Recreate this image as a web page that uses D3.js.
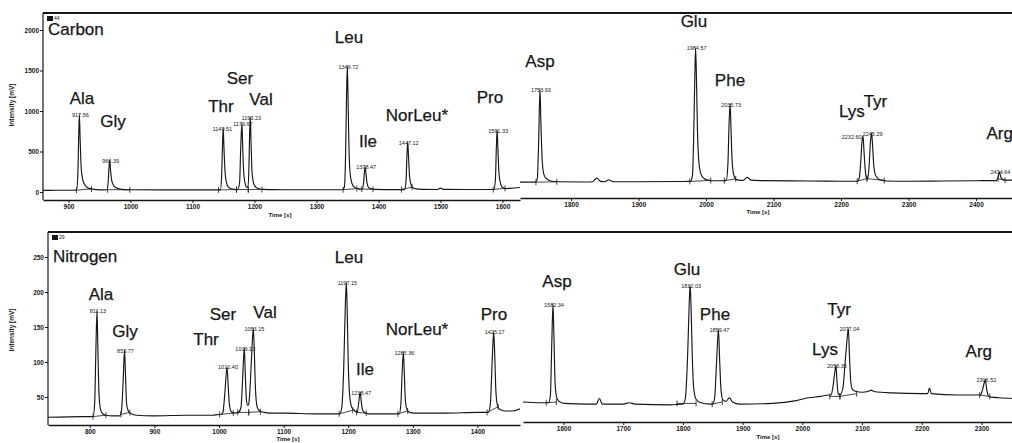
<!DOCTYPE html>
<html><head><meta charset="utf-8">
<script src="https://cdn.jsdelivr.net/npm/d3@7"></script>
<style>
html,body{margin:0;padding:0;background:#fff;}
svg{display:block;font-family:"Liberation Sans",Arial,sans-serif;}
</style></head><body>
<svg id="chart" width="1012" height="443"></svg>
<script>
// ---------- Carbon channel, run A (time s, intensity mV) ----------
const carbonTraceA = [
 [859,20],[880,21],[905,22],[913,23],[915,200],[916.5,700],[917.56,960],[918.8,650],[920.5,300],[923,150],[927,80],[933,45],[945,30],
 [957,27],[962,28],[964,120],[965.3,300],[966.39,395],[967.6,290],[969.5,150],[972,90],[976,55],[982,38],[990,30],[999,28],
 [1050,26],[1100,26],[1140,26],
 [1145,26],[1147,200],[1148.5,600],[1149.51,790],[1150.7,560],[1152.5,250],[1155,110],[1158,60],[1162,40],[1168,32],
 [1173,30],[1176,120],[1177.8,550],[1179.67,850],[1180.8,600],[1182.5,250],[1185,100],[1187.5,60],
 [1189.5,60],[1191,300],[1192.2,750],[1193.23,925],[1194.3,650],[1196,250],[1198.5,110],[1202,60],[1207,40],[1215,32],[1230,29],
 [1260,28],[1300,28],[1335,28],
 [1341,28],[1345,60],[1347,500],[1348.5,1200],[1349.72,1555],[1350.8,1200],[1352.2,600],[1354,250],[1357,110],[1361,60],[1366,42],[1371,36],
 [1374,36],[1376,120],[1377.3,250],[1378.47,310],[1379.7,230],[1381.5,110],[1384,55],[1388,40],[1395,33],
 [1420,30],[1440,30],
 [1442,30],[1444.5,150],[1446,480],[1447.12,617],[1448.3,460],[1450,200],[1452.5,90],[1456,50],[1461,38],[1470,32],
 [1495,31],[1500,48],[1505,32],[1540,31],[1580,31],
 [1586,31],[1588.5,150],[1590.2,580],[1591.33,765],[1592.5,550],[1594.3,230],[1597,100],[1600,55],[1605,42],[1612,45],[1628,55]
];
const carbonNamesA = ["Ala","Gly","Thr","Ser","Val","Leu","Ile","NorLeu*","Pro"];
const carbonTimesA = [917.56, 966.39, 1149.51, 1179.67, 1193.23, 1349.72, 1378.47, 1447.12, 1591.33];
const carbonNameAtA = [[921.8,1090],[971.8,802],[1145.9,990],[1176.6,1330],[1210.5,1075],[1352.4,1840],[1383,556],[1462,877],[1579.8,1099]];
const carbonCutsA = [[[913,23],[937,38]],[[963,28],[999,28]],[[1142,26],[1171,30]],[[1171,30],[1190,30]],[[1190,30],[1212,30]],
 [[1343,28],[1365,42]],[[1373,36],[1391,33]],[[1437,30],[1454,60]],[[1585,31],[1604,45]]];
const carbonTicksA = [900,1000,1100,1200,1300,1400,1500,1600];
const carbonIntensityTicks = [0,500,1000,1500,2000];

// ---------- Carbon channel, run B ----------
const carbonTraceB = [
 [1724,10],[1740,10],
 [1747,10],[1750,50],[1752,500],[1753.93,1160],[1755.5,700],[1757.5,250],[1760,100],[1764,50],[1770,25],[1780,15],
 [1820,12],[1832,15],[1838,60],[1844,20],[1850,15],[1856,40],[1862,15],[1900,15],[1960,18],[1975,20],
 [1977,20],[1980,100],[1982,700],[1983.6,1400],[1984.57,1667],[1985.8,1300],[1987.3,650],[1989.5,250],[1992.5,110],[1997,55],[2003,35],[2010,28],
 [2025,28],[2030,32],[2032.5,250],[2034,700],[2035.73,975],[2036.9,700],[2038.6,280],[2041,100],[2044,50],[2048,35],
 [2055,32],[2061,70],[2067,35],[2080,30],[2150,25],[2200,22],[2222,22],
 [2224,22],[2227,60],[2229.5,300],[2231.2,520],[2232.6,580],[2234,400],[2236,150],[2238,60],
 [2239.5,50],[2241.5,200],[2243.5,500],[2245.29,617],[2246.8,450],[2248.5,220],[2251,100],[2255,55],[2260,35],[2268,25],
 [2300,22],[2350,25],[2400,28],[2428,30],
 [2430,30],[2432.5,70],[2434.64,136],[2436.5,80],[2439,45],[2443,35],[2454,35]
];
const carbonNamesB = ["Asp","Glu","Phe","Lys","Tyr","Arg"];
const carbonTimesB = [1753.93, 1984.57, 2035.73, 2232.60, 2245.29, 2434.64];
const carbonNameAtB = [[1754,1432],[1982,1926],[2035.5,1198],[2216,815],[2251,938],[2435,543]];
const carbonCutsB = [[[1748,10],[1779,15]],[[1976,20],[2007,32]],[[2027,30],[2044,50]],[[2224,22],[2238.5,55]],[[2238.5,55],[2264,30]],[[2432.6,50],[2443,35]]];
const carbonTicksB = [1800,1900,2000,2100,2200,2300,2400];

// ---------- Nitrogen channel, run A ----------
const nitrogenTraceA = [
 [735,21],[790,22],[803,22],
 [805,22],[807.5,40],[809.5,120],[811.13,173],[812.5,120],[814,60],[816,35],[819,27],[825,24],[835,23],
 [846,23],[849,30],[851.5,70],[853.77,117],[855.3,80],[857,40],[859.5,30],[864,26],[872,24],
 [900,23],[950,24],[990,24],[1000,25],
 [1003,25],[1006,28],[1009,55],[1012.4,93],[1014,70],[1016,40],[1019,29],[1024,27],
 [1030,28],[1034,35],[1036.5,75],[1039.13,120],[1040.8,80],[1042.5,45],[1044.5,38],
 [1046,40],[1048.5,70],[1051,120],[1053.15,148],[1054.8,110],[1056.5,60],[1059,36],[1063,30],[1070,28],[1080,27],
 [1100,27],[1150,26],[1185,26],
 [1187,26],[1190,35],[1193,90],[1195.5,180],[1197.15,214],[1198.5,170],[1200,100],[1202,55],[1204.5,38],[1208,32],[1212,29],
 [1214,28],[1216,40],[1218.47,57],[1220,45],[1222,32],[1225,28],[1232,26],
 [1260,26],[1278,26],
 [1279,26],[1281.5,40],[1283.5,85],[1285.36,114],[1286.8,85],[1288.5,45],[1291,32],[1295,28],[1302,27],
 [1350,27],[1400,28],[1415,28],
 [1417,28],[1420,40],[1423,105],[1425.17,143],[1426.8,110],[1428.5,60],[1431,38],[1435,32],[1442,30],[1455,30],[1466,33]
];
const nitrogenNamesA = ["Ala","Gly","Thr","Ser","Val","Leu","Ile","NorLeu*","Pro"];
const nitrogenTimesA = [811.13, 853.77, 1012.40, 1039.13, 1053.15, 1197.15, 1218.47, 1285.36, 1425.17];
const nitrogenNameAtA = [[817.3,189],[854.5,136],[979.9,124],[1006.2,160],[1071.2,163],[1201.2,241],[1226,81],[1306.5,139],[1425.7,160]];
const nitrogenCutsA = [[[805,22],[825,24]],[[848,25],[862,28]],[[1001,25],[1022,27]],[[1029,28],[1046,28]],[[1046,28],[1064,29]],
 [[1186,26],[1207,31]],[[1213,28],[1228,27]],[[1277,26],[1292,30]],[[1415,28],[1432,36]]];
const nitrogenTicksA = [800,900,1000,1100,1200,1300,1400];
const nitrogenIntensityTicks = [50,100,150,200,250];

// ---------- Nitrogen channel, run B ----------
const nitrogenTraceB = [
 [1532,40],[1560,39],[1572,39],
 [1575,39],[1578,50],[1580.5,130],[1582.34,180],[1584,130],[1586,65],[1589,45],[1594,40],[1602,38],
 [1640,37],[1655,37],[1660,45],[1665,37],[1700,37],[1710,39],[1720,37],[1780,36],[1795,37],
 [1800,37],[1804,45],[1808,110],[1810.5,180],[1812.03,207],[1813.5,180],[1815.5,110],[1818,60],[1822,44],[1830,39],[1845,37],
 [1850,37],[1853,45],[1856.5,100],[1859.47,144],[1861.5,100],[1864,55],[1867,43],[1872,41],[1878,46],[1883,40],[1895,37],
 [1950,38],[1990,42],[2010,46],[2030,48],[2045,50],
 [2048,50],[2051,60],[2054,80],[2056.35,92],[2058,70],[2060,52],
 [2063,50],[2068,60],[2072,100],[2075,130],[2077.04,145],[2079,105],[2081,70],[2084,58],[2090,55],[2100,54],[2110,55],[2115,57],[2120,55],
 [2150,53],[2200,52],[2210,52],[2213,60],[2216,52],[2260,50],[2290,50],
 [2298,50],[2301,55],[2304,65],[2306.52,72],[2308.5,60],[2311,50],[2316,47],[2330,46],[2352,45]
];
const nitrogenNamesB = ["Asp","Glu","Phe","Lys","Tyr","Arg"];
const nitrogenTimesB = [1582.34, 1812.03, 1859.47, 2056.35, 2077.04, 2306.52];
const nitrogenNameAtB = [[1589,204],[1806.8,221],[1853.7,157],[2038,107],[2061.5,164],[2295.6,104]];
const nitrogenCutsB = [[[1571,39],[1588,40]],[[1790,38],[1822,38]],[[1849,37],[1866,40]],[[2046,48],[2063,48]],[[2063,48],[2091,52]],[[2297,50],[2314,48]]];
const nitrogenTicksB = [1600,1700,1800,1900,2000,2100,2200,2300];

// ---------- layout ----------
const W = 1012, H = 443;
const svg = d3.select("#chart");
const ink = "#161616";

const panels = [
 {id:"ca", trace:carbonTraceA, names:carbonNamesA, times:carbonTimesA, nameAt:carbonNameAtA, cuts:carbonCutsA, xticks:carbonTicksA,
  x:d3.scaleLinear().domain([858.9,1628.2]).range([43,520]), y:d3.scaleLinear().domain([0,2000]).range([192,30]),
  axisY:200, timeAt:[280,217]},
 {id:"cb", trace:carbonTraceB, names:carbonNamesB, times:carbonTimesB, nameAt:carbonNameAtB, cuts:carbonCutsB, xticks:carbonTicksB,
  x:d3.scaleLinear().domain([1724.4,2453.3]).range([520,1012]), y:d3.scaleLinear().domain([0,2000]).range([183,21]),
  axisY:198, timeAt:[758,214]},
 {id:"na", trace:nitrogenTraceA, names:nitrogenNamesA, times:nitrogenTimesA, nameAt:nitrogenNameAtA, cuts:nitrogenCutsA, xticks:nitrogenTicksA,
  x:d3.scaleLinear().domain([735.3,1465.9]).range([48,520]), y:d3.scaleLinear().domain([0,250]).range([432,257]),
  axisY:425, timeAt:[288,441]},
 {id:"nb", trace:nitrogenTraceB, names:nitrogenNamesB, times:nitrogenTimesB, nameAt:nitrogenNameAtB, cuts:nitrogenCutsB, xticks:nitrogenTicksB,
  x:d3.scaleLinear().domain([1532.1,2351.2]).range([523,1012]), y:d3.scaleLinear().domain([0,250]).range([430,255]),
  axisY:422, timeAt:[768,439]}
];

const defs = svg.append("defs");

panels.forEach(p => {
  const [x0, x1] = p.x.range();
  defs.append("clipPath").attr("id", "clip-" + p.id)
    .append("rect").attr("x", x0).attr("y", 0).attr("width", x1 - x0).attr("height", H);
  const g = svg.append("g").attr("class", "panel-" + p.id);

  // time axis
  const ax = d3.axisBottom(p.x).tickValues(p.xticks).tickSize(3).tickSizeOuter(0).tickPadding(1.5).tickFormat(d3.format("d"));
  const axg = g.append("g").attr("transform", `translate(0,${p.axisY})`).call(ax);
  axg.select(".domain").attr("stroke", ink).attr("stroke-width", 1.3);
  axg.selectAll(".tick line").attr("stroke", ink);
  axg.selectAll(".tick text").attr("fill", ink).attr("font-size", 6.5).attr("font-weight", "bold")
    .attr("font-family", "'Liberation Sans',Arial,sans-serif");
  g.append("text").attr("x", p.timeAt[0]).attr("y", p.timeAt[1]).attr("text-anchor", "middle")
    .attr("font-size", 6).attr("font-weight", "bold").attr("fill", ink).text("Time [s]");

  // retention time printed at each apex (the trace is drawn over it)
  const apex = t => (p.trace.find(d => d[0] === t) || [t, 0])[1];
  const rt = g.selectAll("text.rt").data(p.times).join("text").attr("class", "rt")
    .attr("x", d => p.x(d) + 1).attr("y", d => p.y(apex(d)) + 2.5)
    .attr("text-anchor", "middle").attr("font-size", 5.5).attr("fill", ink)
    .attr("stroke", "#fff").attr("stroke-width", 1.2).attr("paint-order", "stroke")
    .text(d => d.toFixed(2));
  // slide a label left when it would run into the next peak's label on the same row
  const nodes = rt.nodes();
  for (let i = nodes.length - 2; i >= 0; i--) {
    const a = nodes[i].getBBox(), b = nodes[i + 1].getBBox();
    const sameRow = Math.abs(a.y - b.y) < a.height;
    if (sameRow && a.x + a.width > b.x - 1) {
      const shift = a.x + a.width - (b.x - 1);
      nodes[i].setAttribute("x", +nodes[i].getAttribute("x") - shift);
    }
  }

  // chromatogram trace
  const line = d3.line().x(d => p.x(d[0])).y(d => p.y(d[1])).curve(d3.curveMonotoneX);
  g.append("path").datum(p.trace).attr("clip-path", `url(#clip-${p.id})`)
    .attr("d", line).attr("fill", "none").attr("stroke", ink).attr("stroke-width", 1.15);

  // integration baselines and peak limits
  const cg = g.append("g").attr("clip-path", `url(#clip-${p.id})`);
  cg.selectAll("line.base").data(p.cuts).join("line").attr("class", "base")
    .attr("x1", d => p.x(d[0][0])).attr("y1", d => p.y(d[0][1]))
    .attr("x2", d => p.x(d[1][0])).attr("y2", d => p.y(d[1][1]))
    .attr("stroke", ink).attr("stroke-width", 0.8);
  const ends = p.cuts.flat();
  cg.selectAll("line.lim").data(ends).join("line").attr("class", "lim")
    .attr("x1", d => p.x(d[0])).attr("x2", d => p.x(d[0]))
    .attr("y1", d => p.y(d[1]) - 3).attr("y2", d => p.y(d[1]) + 3)
    .attr("stroke", ink).attr("stroke-width", 0.8);

  // compound names
  g.selectAll("text.name").data(p.names).join("text").attr("class", "name")
    .attr("x", (d, i) => p.x(p.nameAt[i][0])).attr("y", (d, i) => p.y(p.nameAt[i][1]))
    .attr("text-anchor", "middle").attr("font-size", 17).attr("fill", ink)
    .attr("stroke", ink).attr("stroke-width", 0.25).text(d => d);
});

// frames, intensity axes and channel titles
const frames = [
  {xAxis:43, top:13, bottom:200, scale:panels[0].y, ticks:carbonIntensityTicks, title:"Carbon", code:"44", titleY:35, labelY:105},
  {xAxis:48, top:232, bottom:425, scale:panels[2].y, ticks:nitrogenIntensityTicks, title:"Nitrogen", code:"29", titleY:262, labelY:330}
];
frames.forEach(f => {
  const g = svg.append("g");
  g.append("line").attr("x1", f.xAxis).attr("x2", W).attr("y1", f.top).attr("y2", f.top)
    .attr("stroke", ink).attr("stroke-width", 2);
  g.append("line").attr("x1", f.xAxis).attr("x2", f.xAxis).attr("y1", f.top).attr("y2", f.bottom)
    .attr("stroke", ink).attr("stroke-width", 1.2);
  const ay = d3.axisLeft(f.scale).tickValues(f.ticks).tickSize(3).tickSizeOuter(0).tickPadding(1).tickFormat(d3.format("d"));
  const ag = g.append("g").attr("transform", `translate(${f.xAxis},0)`).call(ay);
  ag.select(".domain").remove();
  ag.selectAll(".tick line").attr("stroke", ink);
  ag.selectAll(".tick text").attr("fill", ink).attr("font-size", 6.5).attr("font-weight", "bold")
    .attr("font-family", "'Liberation Sans',Arial,sans-serif");
  g.append("text").attr("transform", `translate(14,${f.labelY}) rotate(-90)`).attr("text-anchor", "middle")
    .attr("font-size", 6.5).attr("font-weight", "bold").attr("fill", ink).text("Intensity [mV]");
  g.append("rect").attr("x", f.xAxis + 4).attr("y", f.top + 3).attr("width", 6).attr("height", 5).attr("fill", ink);
  g.append("text").attr("x", f.xAxis + 11).attr("y", f.top + 7).attr("font-size", 5).attr("fill", ink).text(f.code);
  g.append("text").attr("x", f.xAxis + 5).attr("y", f.titleY).attr("font-size", 17).attr("fill", ink)
    .attr("stroke", ink).attr("stroke-width", 0.25).text(f.title);
});
</script>
</body></html>
